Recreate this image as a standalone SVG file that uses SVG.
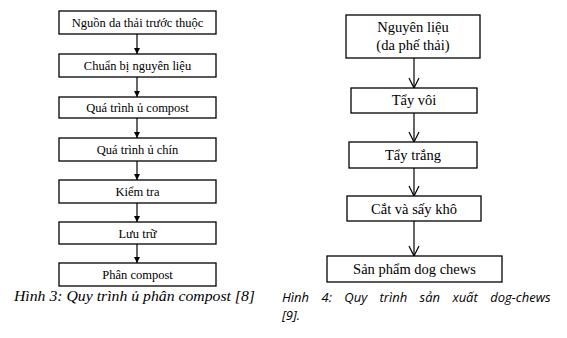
<svg xmlns="http://www.w3.org/2000/svg" width="567" height="338" viewBox="0 0 567 338">
<style>
.bx{fill:#fff;stroke:#000;stroke-width:1.3}
.lt{font-size:12.5px;text-anchor:middle;fill:#000}
.rt{font-size:14.5px;text-anchor:middle;fill:#000}
.ln{stroke:#000;stroke-width:1.2;fill:none}
.cap1{font-style:italic;font-size:14px;fill:#000}
.cap2{font-family:'Open Sans','Liberation Sans',sans-serif;font-style:italic;font-size:13px;fill:#000}
</style>
<defs>
<marker id="fa" viewBox="0 0 8 8" refX="8" refY="4" markerWidth="6" markerHeight="6" markerUnits="userSpaceOnUse" orient="auto"><path d="M0,0 L8,4 L0,8 z" fill="#000"/></marker>
<marker id="oa" viewBox="0 0 12 12" refX="11" refY="6" markerWidth="12" markerHeight="12" markerUnits="userSpaceOnUse" orient="auto"><path d="M1,1 L11,6 L1,11" fill="none" stroke="#000" stroke-width="1.2"/></marker>
</defs>
<rect width="567" height="338" fill="#fff"/>
<g id="connectors">
<line class="ln" x1="137" y1="34" x2="137" y2="54" marker-end="url(#fa)"/>
<line class="ln" x1="137" y1="77" x2="137" y2="97" marker-end="url(#fa)"/>
<line class="ln" x1="137" y1="118" x2="137" y2="138" marker-end="url(#fa)"/>
<line class="ln" x1="137" y1="161" x2="137" y2="180" marker-end="url(#fa)"/>
<line class="ln" x1="137" y1="203" x2="137" y2="222" marker-end="url(#fa)"/>
<line class="ln" x1="137" y1="244" x2="137" y2="263" marker-end="url(#fa)"/>
<line class="ln" x1="414" y1="58" x2="414" y2="88" marker-end="url(#oa)"/>
<line class="ln" x1="414" y1="113" x2="414" y2="142" marker-end="url(#oa)"/>
<line class="ln" x1="414" y1="168" x2="414" y2="196" marker-end="url(#oa)"/>
<line class="ln" x1="414" y1="221" x2="414" y2="256" marker-end="url(#oa)"/>
</g>
<g font-family="Liberation Serif, Times New Roman, DejaVu Serif, serif">
<g id="n1"><rect class="bx" x="59" y="11" width="157" height="23"/><text class="lt" x="137.5" y="27">Nguồn da thải trước thuộc</text></g>
<g id="n2"><rect class="bx" x="59" y="54" width="157" height="23"/><text class="lt" x="137.5" y="70">Chuẩn bị nguyên liệu</text></g>
<g id="n3"><rect class="bx" x="59" y="97" width="157" height="21"/><text class="lt" x="137.5" y="112">Quá trình ủ compost</text></g>
<g id="n4"><rect class="bx" x="59" y="138" width="157" height="23"/><text class="lt" x="137.5" y="154">Quá trình ủ chín</text></g>
<g id="n5"><rect class="bx" x="59" y="180" width="157" height="23"/><text class="lt" x="137.5" y="196">Kiểm tra</text></g>
<g id="n6"><rect class="bx" x="59" y="222" width="157" height="22"/><text class="lt" x="137.5" y="238">Lưu trữ</text></g>
<g id="n7"><rect class="bx" x="59" y="263" width="157" height="23"/><text class="lt" x="137.5" y="279">Phân compost</text></g>
<g id="r1"><rect class="bx" x="346" y="15" width="134" height="43"/><text class="rt" x="413" y="32">Nguyên liệu</text><text class="rt" x="413" y="50">(da phế thải)</text></g>
<g id="r2"><rect class="bx" x="351" y="88" width="126" height="25"/><text class="rt" x="414" y="105">Tẩy vôi</text></g>
<g id="r3"><rect class="bx" x="349" y="142" width="128" height="26"/><text class="rt" x="413" y="160">Tẩy trắng</text></g>
<g id="r4"><rect class="bx" x="347" y="196" width="134" height="25"/><text class="rt" x="414" y="214">Cắt và sấy khô</text></g>
<g id="r5"><rect class="bx" x="327" y="256" width="175" height="26"/><text class="rt" x="414.5" y="274">Sản phẩm dog chews</text></g>
<text class="cap1" x="14" y="301" textLength="241" lengthAdjust="spacingAndGlyphs">Hình 3: Quy trình ủ phân compost [8]</text>
</g>
<text class="cap2" x="282" y="302" word-spacing="9">Hình 4: Quy trình sản xuất dog-chews</text>
<text class="cap2" x="282" y="320">[9].</text>
</svg>
